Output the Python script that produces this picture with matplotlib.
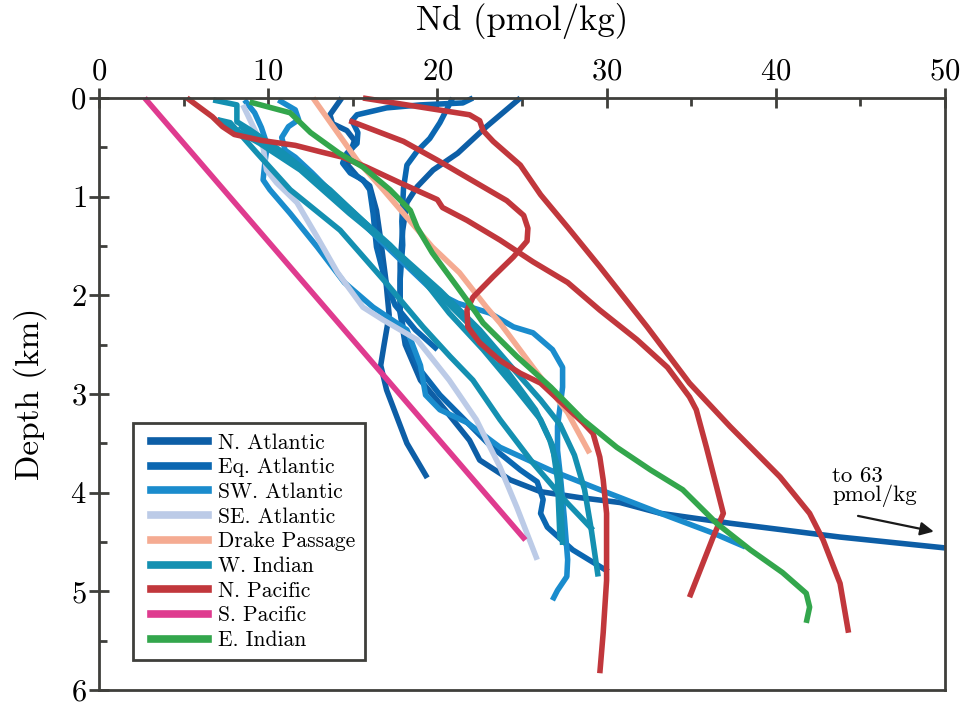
import numpy as np
import matplotlib
matplotlib.use('Agg')
import matplotlib.pyplot as plt
from matplotlib.lines import Line2D
from matplotlib.legend_handler import HandlerLine2D

plt.rcParams['font.family'] = ['cmr10', 'DejaVu Serif']
plt.rcParams['mathtext.fontset'] = 'cm'
plt.rcParams['axes.formatter.use_mathtext'] = True

# ---------------- perfis de Nd (pmol/kg) x profundidade (km) ----------------
# N. Atlantic
na1_nd = [14.35, 13.65, 13.8, 14.65, 15.1, 14.8, 14.7, 15.25, 16.0, 16.4, 16.65,
          16.95, 17.15, 16.85, 16.65, 17.0, 17.6, 18.2, 19.4]
na1_z = [0.0, 0.17, 0.26, 0.33, 0.43, 0.58, 0.68, 0.79, 0.89, 1.14, 1.44,
         1.84, 2.20, 2.50, 2.71, 2.96, 3.23, 3.50, 3.85]
na2_nd = [24.9, 22.9, 21.2, 19.75, 18.8, 18.2, 17.95, 17.8, 17.8, 18.1, 19.0,
          20.45, 21.9, 22.5, 24.3, 26.1, 28.4, 30.8, 33.2, 37.3, 43.8, 50.0]
na2_z = [0.0, 0.29, 0.56, 0.73, 0.90, 1.06, 1.34, 1.67, 2.18, 2.50, 2.86,
         3.16, 3.47, 3.67, 3.87, 3.99, 4.05, 4.10, 4.21, 4.31, 4.45, 4.56]

# Eq. Atlantic
eq1_nd = [22.1, 21.5, 19.0, 17.0, 15.25, 14.95, 15.3, 15.25, 14.65, 14.4, 14.85,
          15.6, 16.0, 16.2, 16.4, 16.9, 17.5, 18.7, 20.0]
eq1_z = [0.0, 0.05, 0.07, 0.10, 0.17, 0.23, 0.35, 0.46, 0.56, 0.66, 0.76,
         0.83, 0.93, 1.17, 1.51, 1.84, 2.10, 2.35, 2.55]
eq2_nd = [20.9, 20.15, 19.55, 18.8, 18.2, 18.0, 17.9, 17.95, 17.8, 17.8, 18.1,
          19.0, 20.15, 21.6, 23.1, 24.9, 25.9, 26.25, 26.1, 26.5, 28.0, 30.1]
eq2_z = [0.0, 0.25, 0.41, 0.54, 0.68, 0.91, 1.25, 1.49, 1.84, 2.15, 2.45,
         2.76, 3.01, 3.26, 3.52, 3.77, 3.89, 4.07, 4.21, 4.35, 4.58, 4.80]

# SW. Atlantic
sw1_nd = [8.6, 9.2, 9.6, 9.95, 9.8, 9.7, 10.1, 11.3, 12.9, 14.5, 16.2, 18.2,
          19.0, 19.3, 20.15, 21.75, 23.7, 26.65, 29.6, 33.2, 36.3, 38.2]
sw1_z = [0.02, 0.15, 0.30, 0.48, 0.66, 0.83, 0.93, 1.17, 1.51, 1.87, 2.12, 2.35,
         2.71, 3.01, 3.16, 3.29, 3.54, 3.77, 3.97, 4.21, 4.41, 4.55]
sw2_nd = [10.6, 11.6, 11.8, 11.2, 10.8, 11.0, 11.6, 12.6, 14.8, 17.2, 19.7,
          21.2, 23.1, 24.5, 25.65, 26.8, 27.4, 27.4, 27.25, 27.1, 27.1, 27.25,
          27.5, 27.7, 27.65, 27.1, 26.8]
sw2_z = [0.02, 0.12, 0.22, 0.29, 0.40, 0.53, 0.60, 0.76, 1.14, 1.54, 1.95,
         2.08, 2.18, 2.32, 2.38, 2.55, 2.73, 2.93, 3.13, 3.33, 3.57, 3.80,
         4.25, 4.68, 4.85, 4.99, 5.09]

# SE. Atlantic
se_nd = [8.5, 9.7, 9.9, 10.5, 11.7, 12.9, 14.1, 15.6, 16.8, 18.8, 20.7, 22.3,
         23.7, 24.7, 25.9]
se_z = [0.07, 0.50, 0.73, 0.86, 1.06, 1.41, 1.77, 2.12, 2.25, 2.45, 2.86, 3.26,
        3.74, 4.15, 4.68]

# Drake Passage
dp_nd = [12.65, 15.25, 16.8, 18.2, 19.7, 21.3, 22.9, 23.7, 25.65, 27.7, 29.0]
dp_z = [0.0, 0.63, 0.93, 1.21, 1.51, 1.77, 2.12, 2.28, 2.73, 3.19, 3.60]

# W. Indian
wi1_nd = [6.75, 8.15, 8.15, 8.9, 10.7, 13.65, 16.8, 19.15, 20.7, 22.7, 24.7,
          26.1, 26.8, 27.1, 27.25]
wi1_z = [0.02, 0.07, 0.24, 0.32, 0.53, 0.93, 1.44, 1.84, 2.18, 2.55, 2.96,
         3.26, 3.52, 3.87, 4.48]
wi2_nd = [7.0, 9.5, 11.9, 14.8, 17.8, 20.15, 22.5, 24.3, 26.1, 27.25, 28.1,
          28.7, 29.1, 29.5]
wi2_z = [0.22, 0.46, 0.73, 1.17, 1.59, 1.95, 2.35, 2.71, 3.06, 3.31, 3.62,
         3.97, 4.38, 4.85]
wi3_nd = [7.0, 7.75, 9.35, 11.3, 14.25, 16.8, 19.15, 20.75, 22.1, 23.7, 25.65,
          27.65, 29.2]
wi3_z = [0.22, 0.25, 0.56, 0.93, 1.34, 1.84, 2.32, 2.62, 2.86, 3.26, 3.70,
         4.10, 4.38]
wi4_nd = [8.3, 11.3, 14.2, 17.2, 20.15, 22.5, 24.3, 25.8, 26.65, 27.25, 27.4]
wi4_z = [0.28, 0.63, 1.03, 1.49, 2.0, 2.40, 2.81, 3.16, 3.47, 3.82, 4.53]

# N. Pacific
np1_nd = [5.2, 6.7, 7.3, 8.0, 9.6, 11.6, 13.2, 14.4, 15.8, 17.8, 20.0, 20.3,
          21.75, 23.7, 25.65, 27.7, 29.6, 31.8, 33.6, 34.9, 35.3, 35.9, 36.5,
          36.9, 36.3, 34.9]
np1_z = [0.0, 0.19, 0.29, 0.37, 0.43, 0.48, 0.55, 0.60, 0.70, 0.86, 1.03, 1.11,
         1.24, 1.44, 1.66, 1.87, 2.15, 2.45, 2.73, 3.03, 3.16, 3.54, 3.94,
         4.21, 4.45, 5.06]
np2_nd = [14.8, 18.0, 20.0, 22.5, 24.1, 25.1, 25.35, 25.3, 24.5, 23.3, 22.1,
          21.75, 21.8, 22.5, 23.7, 24.9, 26.1, 28.6, 29.2, 29.6, 29.8, 30.0,
          30.0, 29.8, 29.6]
np2_z = [0.23, 0.44, 0.63, 0.88, 1.04, 1.19, 1.32, 1.45, 1.61, 1.81, 2.02,
         2.15, 2.32, 2.48, 2.66, 2.79, 2.89, 3.29, 3.40, 3.64, 3.87, 4.21,
         4.89, 5.42, 5.83]
np3_nd = [15.6, 21.9, 22.5, 22.7, 23.3, 24.9, 26.1, 27.7, 29.6, 32.4, 34.9,
          37.3, 40.25, 42.0, 42.8, 43.8, 44.3]
np3_z = [0.0, 0.17, 0.23, 0.33, 0.44, 0.68, 0.98, 1.31, 1.71, 2.32, 2.89,
         3.33, 3.84, 4.21, 4.48, 4.92, 5.42]

# S. Pacific
sp_nd = [2.7, 25.2]
sp_z = [0.0, 4.48]

# E. Indian
ei_nd = [8.9, 11.3, 11.9, 12.5, 14.2, 15.6, 17.2, 18.4, 18.8, 19.7, 21.2, 22.3,
         22.7, 24.7, 26.7, 28.6, 30.6, 32.6, 34.5, 36.5, 38.5, 40.4, 41.8,
         42.0, 41.8]
ei_z = [0.04, 0.15, 0.25, 0.35, 0.56, 0.70, 0.93, 1.14, 1.31, 1.57, 1.92, 2.18,
        2.28, 2.62, 2.93, 3.26, 3.54, 3.77, 3.97, 4.31, 4.58, 4.81, 5.02,
        5.16, 5.32]

regions = ['N. Atlantic', 'Eq. Atlantic', 'SW. Atlantic', 'SE. Atlantic',
           'Drake Passage', 'W. Indian', 'N. Pacific', 'S. Pacific', 'E. Indian']
colors = ['#0d5ea6', '#0b67b1', '#1a8ccd', '#bccbe7', '#f5ab92',
          '#1490b1', '#c1373c', '#df3b8f', '#33a64c']

profiles = [
    (0, na1_nd, na1_z), (0, na2_nd, na2_z),
    (1, eq1_nd, eq1_z), (1, eq2_nd, eq2_z),
    (2, sw1_nd, sw1_z), (2, sw2_nd, sw2_z),
    (3, se_nd, se_z),
    (4, dp_nd, dp_z),
    (5, wi1_nd, wi1_z), (5, wi2_nd, wi2_z), (5, wi3_nd, wi3_z), (5, wi4_nd, wi4_z),
    (6, np1_nd, np1_z), (6, np2_nd, np2_z), (6, np3_nd, np3_z),
    (7, sp_nd, sp_z),
    (8, ei_nd, ei_z),
]

# ------------------------------- figura -------------------------------
fig = plt.figure(figsize=(9.62, 7.04), dpi=100)
ax = fig.add_axes([0.1029, 0.0199, 0.8794, 0.8409])

for idx, nd, z in profiles:
    ax.plot(nd, z, color=colors[idx], lw=4.0, solid_capstyle='butt',
            solid_joinstyle='round', clip_on=False)

ax.set_xlim(0, 50)
ax.set_ylim(6, 0)
ax.xaxis.set_ticks_position('top')
ax.xaxis.set_label_position('top')
ax.set_xticks(np.arange(0, 51, 10))
ax.set_xticks(np.arange(5, 50, 10), minor=True)
ax.set_yticks(np.arange(0, 7, 1))
ax.set_yticks(np.arange(0.5, 6, 1), minor=True)
ax.tick_params(which='major', direction='inout', length=14, width=2,
               color='#3f3f3b', labelsize=22, pad=2)
ax.tick_params(which='minor', direction='in', length=6, width=2, color='#3f3f3b')
ax.tick_params(axis='x', which='both', bottom=False, top=True)
ax.tick_params(axis='y', which='both', right=False, left=True)
for sp in ax.spines.values():
    sp.set_color('#3f3f3b')
    sp.set_linewidth(2)

ax.set_xlabel('Nd (pmol/kg)', fontsize=25, labelpad=20)
ax.set_ylabel('Depth (km)', fontsize=24, labelpad=17)

ax.annotate('', xy=(49.5, 4.40), xytext=(44.7, 4.23),
            arrowprops=dict(arrowstyle='-|>', color='#1a1a1a', lw=1.6,
                            mutation_scale=20))
ax.text(43.35, 4.15, 'to 63\npmol/kg', fontsize=16.5, ha='left', va='bottom',
        linespacing=0.95)

handles = [Line2D([0], [0], color=c, lw=5.5) for c in colors]
leg = ax.legend(handles, regions, loc='lower left', bbox_to_anchor=(0.040, 0.051),
                borderaxespad=0, fontsize=15.5, handlelength=3.05,
                handletextpad=0.47, labelspacing=0.24, borderpad=0.45,
                handler_map={Line2D: HandlerLine2D(xpad=0.4)},
                fancybox=False, framealpha=1, edgecolor='#3f3f3b')
leg.get_frame().set_linewidth(2)

plt.savefig('out.png', dpi=100)
